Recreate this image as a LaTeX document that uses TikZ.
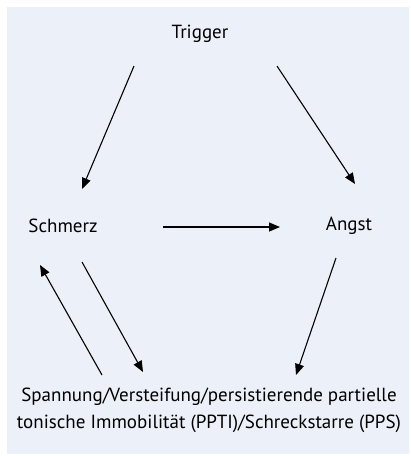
\documentclass[tikz,border=0pt]{standalone}
\usepackage{fontspec}
\setmainfont{PT Sans}
\usetikzlibrary{arrows.meta}
\definecolor{bgblue}{HTML}{EBF0F9}
\tikzset{
  lbl/.style={font=\fontsize{19}{23}\selectfont, text=black, inner sep=0pt},
  arr/.style={line width=1.1pt, -{Triangle[length=11pt,width=9pt]}}
}
\begin{document}
\begin{tikzpicture}[x=1pt,y=-1pt]
\useasboundingbox (0,0) rectangle (411,456);
\fill[bgblue] (7,7) rectangle (409,454);
\node[lbl] (trigger) at (200,34) {Trigger};
\node[lbl] (schmerz) at (63,226) {Schmerz};
\node[lbl] (angst) at (349,226) {Angst};
\node[lbl, align=center, font=\fontsize{19}{27}\selectfont] (spannung) at (209,410) {Spannung/Versteifung/persistierende partielle\\tonische Immobilität (PPTI)/Schreckstarre (PPS)};
\coordinate (t1) at (134,66);
\coordinate (s1) at (82,189);
\coordinate (t2) at (277,66);
\coordinate (a1) at (355,184);
\coordinate (s2) at (163,227);
\coordinate (a2) at (280,227);
\coordinate (a3) at (336,258);
\coordinate (p1) at (296,375);
\coordinate (s3) at (82,262);
\coordinate (p2) at (143,372);
\coordinate (p3) at (102,375);
\coordinate (s4) at (40,265);
\draw[arr] (t1) -- (s1);
\draw[arr] (t2) -- (a1);
\draw[arr] (s2) -- (a2);
\draw[arr] (a3) -- (p1);
\draw[arr] (s3) -- (p2);
\draw[arr] (p3) -- (s4);
\end{tikzpicture}
\end{document}
